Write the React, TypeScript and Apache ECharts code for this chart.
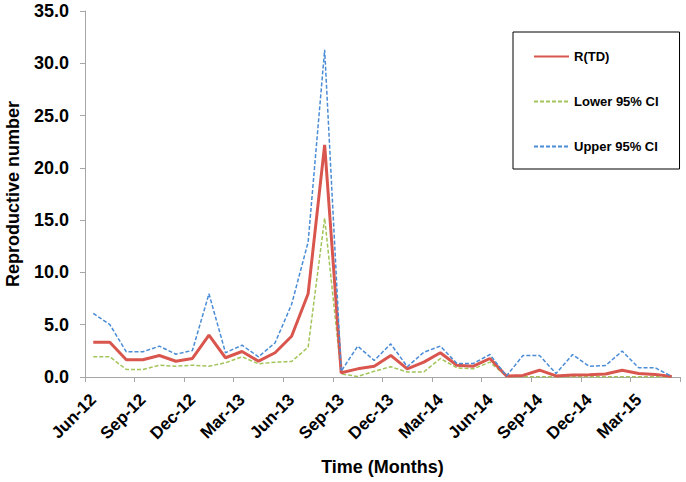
import React, { useEffect, useRef } from "react";
import * as echarts from "echarts";

const months: string[] = [
  "Jun-12", "Jul-12", "Aug-12", "Sep-12", "Oct-12", "Nov-12", "Dec-12", "Jan-13", "Feb-13",
  "Mar-13", "Apr-13", "May-13", "Jun-13", "Jul-13", "Aug-13", "Sep-13", "Oct-13", "Nov-13",
  "Dec-13", "Jan-14", "Feb-14", "Mar-14", "Apr-14", "May-14", "Jun-14", "Jul-14", "Aug-14",
  "Sep-14", "Oct-14", "Nov-14", "Dec-14", "Jan-15", "Feb-15", "Mar-15", "Apr-15", "May-15",
];

const rtd: number[] = [
  3.33, 3.33, 1.65, 1.65, 2.06, 1.51, 1.77, 4.0, 1.84, 2.44, 1.51, 2.32, 3.9, 7.96, 22.2,
  0.4, 0.78, 1.03, 2.06, 0.78, 1.42, 2.32, 1.13, 1.03, 1.77, 0.1, 0.15, 0.65, 0.1, 0.2,
  0.22, 0.28, 0.65, 0.33, 0.25, 0.05,
];

const lower95: number[] = [
  1.93, 1.93, 0.72, 0.72, 1.13, 1.03, 1.13, 1.03, 1.36, 1.93, 1.26, 1.42, 1.48, 2.85, 15.2,
  0.3, 0.05, 0.55, 0.98, 0.48, 0.48, 1.77, 0.88, 0.78, 1.42, 0.05, 0.02, 0.02, 0.02, 0.02,
  0.02, 0.02, 0.02, 0.02, 0.02, 0.0,
];

const upper95: number[] = [
  6.08, 5.02, 2.41, 2.41, 2.95, 2.18, 2.54, 7.96, 2.32, 3.04, 1.93, 3.27, 6.94, 12.9, 31.3,
  0.55, 2.95, 1.58, 3.17, 0.98, 2.37, 2.95, 1.3, 1.3, 2.15, 0.1, 2.06, 2.06, 0.33, 2.15,
  1.03, 1.1, 2.48, 0.88, 0.88, 0.05,
];

const seriesNames: string[] = ["R(TD)", "Lower 95% CI", "Upper 95% CI"];
const yTicks = { min: 0, max: 35, interval: 5 };

const FONT = "'Liberation Sans', Arial, sans-serif";

export default function App() {
  const ref = useRef<HTMLDivElement>(null);

  useEffect(() => {
    if (!ref.current) return;
    const chart = echarts.init(ref.current, null, { renderer: "svg" });
    const axisGrey = "#a6a6a6";
    chart.setOption({
      animation: false,
      backgroundColor: "#ffffff",
      textStyle: { fontFamily: FONT },
      grid: {
        left: 85,
        right: 6,
        top: 11,
        bottom: 105,
        containLabel: false,
        outerBoundsMode: "none",
      },
      legend: {
        orient: "vertical",
        left: 513,
        top: 32,
        borderColor: "#000000",
        borderWidth: 1,
        padding: [18, 21, 16, 20],
        itemGap: 32,
        itemWidth: 35,
        itemHeight: 14,
        data: seriesNames,
        itemStyle: { opacity: 0 },
        lineStyle: { width: 2 },
        textStyle: { fontFamily: FONT, fontWeight: "bold", fontSize: 13, color: "#000000" },
      },
      xAxis: {
        type: "category",
        data: months,
        boundaryGap: true,
        name: "Time (Months)",
        nameLocation: "middle",
        nameGap: 81,
        nameTextStyle: { fontFamily: FONT, fontWeight: "bold", fontSize: 18, color: "#000000" },
        axisLine: { show: true, lineStyle: { color: axisGrey, width: 1 } },
        axisTick: { show: true, interval: 2, length: 5, lineStyle: { color: axisGrey } },
        axisLabel: {
          interval: 2,
          rotate: 45,
          margin: 20,
          fontFamily: FONT,
          fontWeight: "bold",
          fontSize: 17,
          color: "#000000",
        },
        splitLine: { show: false },
      },
      yAxis: {
        type: "value",
        min: yTicks.min,
        max: yTicks.max,
        interval: yTicks.interval,
        name: "Reproductive number",
        nameLocation: "middle",
        nameGap: 63,
        nameRotate: 90,
        nameTextStyle: { fontFamily: FONT, fontWeight: "bold", fontSize: 18, color: "#000000" },
        axisLine: { show: true, lineStyle: { color: axisGrey, width: 1 } },
        axisTick: { show: true, length: 5, lineStyle: { color: axisGrey } },
        axisLabel: {
          margin: 16,
          formatter: (v: number) => v.toFixed(1),
          fontFamily: FONT,
          fontWeight: "bold",
          fontSize: 18,
          color: "#000000",
        },
        splitLine: { show: false },
      },
      series: [
        {
          name: seriesNames[0],
          type: "line",
          data: rtd,
          symbol: "none",
          lineStyle: { color: "#d9564e", width: 3 },
          itemStyle: { color: "#d9564e" },
          z: 3,
        },
        {
          name: seriesNames[1],
          type: "line",
          data: lower95,
          symbol: "none",
          lineStyle: { color: "#a3c45a", width: 1.5, type: [4, 2] },
          itemStyle: { color: "#a3c45a" },
          z: 2,
        },
        {
          name: seriesNames[2],
          type: "line",
          data: upper95,
          symbol: "none",
          lineStyle: { color: "#4a8cd6", width: 1.5, type: [4, 2] },
          itemStyle: { color: "#4a8cd6" },
          z: 4,
        },
      ],
    });
    return () => chart.dispose();
  }, []);

  return (
    <div
      ref={ref}
      style={{ position: "fixed", left: 0, top: 0, width: 686, height: 482, background: "#fff" }}
    />
  );
}
